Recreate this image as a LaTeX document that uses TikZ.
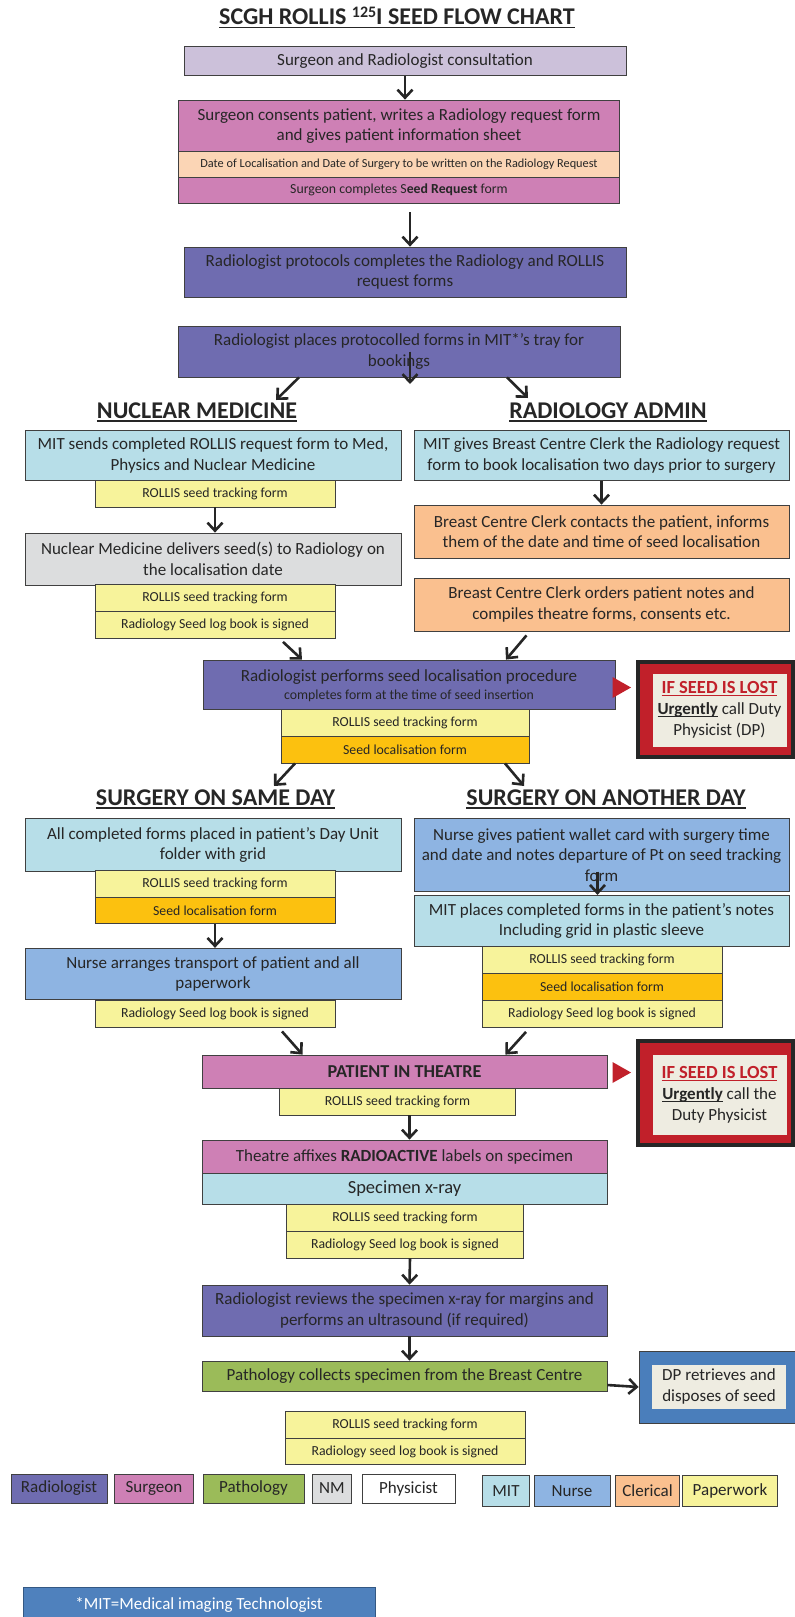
\documentclass[tikz,border=0pt]{standalone}
\usepackage{fontspec}
\setmainfont{Carlito}
\usetikzlibrary{arrows.meta}

\definecolor{radcol}{HTML}{6F6CB0}
\definecolor{surcol}{HTML}{CE80B5}
\definecolor{concol}{HTML}{CCC1DA}
\definecolor{datecol}{HTML}{FBD5B5}
\definecolor{mitcol}{HTML}{B7DEE8}
\definecolor{nursecol}{HTML}{8EB4E2}
\definecolor{clerkcol}{HTML}{FAC08F}
\definecolor{nmcol}{HTML}{DCDDDE}
\definecolor{pathcol}{HTML}{9BBB59}
\definecolor{papercol}{HTML}{F7F39B}
\definecolor{seedcol}{HTML}{FCC10F}
\definecolor{lostcol}{HTML}{C1202A}
\definecolor{creamcol}{HTML}{EEECE1}
\definecolor{dpcol}{HTML}{4A7EBB}
\definecolor{notecol}{HTML}{4F81BD}
\definecolor{inkcol}{HTML}{262626}
\definecolor{edgecol}{HTML}{404040}

\newsavebox{\ulbox}
\newcommand{\hdline}[1]{\sbox{\ulbox}{#1}\rlap{\usebox{\ulbox}}\rule[-3.5pt]{\wd\ulbox}{1.8pt}}
\newcommand{\lostline}[1]{\sbox{\ulbox}{#1}\rlap{\usebox{\ulbox}}\rule[-2.6pt]{\wd\ulbox}{1.2pt}}
\newcommand{\lostsize}{\fontsize{18.5}{21}\selectfont\bfseries}

\begin{document}
\begin{tikzpicture}[x=1pt,y=-1pt,
    box/.style={draw=edgecol,line width=0.8pt,align=center,inner sep=0pt,text=inkcol,font=\fontsize{17}{20.6}\selectfont},
    wh/.style 2 args={minimum width=#1,minimum height=#2},
    smalltxt/.style={font=\fontsize{13.8}{16}\selectfont},
    consult/.style={box,fill=concol},
    surg/.style={box,fill=surcol},
    rad/.style={box,fill=radcol},
    mit/.style={box,fill=mitcol},
    nurse/.style={box,fill=nursecol},
    clerk/.style={box,fill=clerkcol},
    nm/.style={box,fill=nmcol},
    patho/.style={box,fill=pathcol},
    paper/.style={box,smalltxt,fill=papercol},
    seedform/.style={box,smalltxt,fill=seedcol},
    head/.style={inner sep=0pt,text=inkcol,font=\fontsize{24}{28}\selectfont\bfseries},
    arr/.style={draw=inkcol,line width=2.6pt,-{Straight Barb[length=8pt,width=15pt]}},
    lost/.style={draw=black!85,line width=3.5pt,fill=lostcol},
    cream/.style={fill=creamcol,align=center,inner sep=0pt,text=inkcol,font=\fontsize{17}{21}\selectfont}]
    \useasboundingbox (0,0) rectangle (795,1617);

    \node[head] (title) at (397,18) {\hdline{SCGH ROLLIS {\fontsize{16}{16}\selectfont\raisebox{7pt}{125}}I SEED FLOW CHART}};
    \node[consult,wh={442}{29}] (consult) at (405,61) {Surgeon and Radiologist consultation};
    \node[surg,wh={441}{52}] (consent) at (399,126) {Surgeon consents patient, writes a Radiology request form\\and gives patient information sheet};
    \node[box,fill=datecol,wh={441}{26},font=\fontsize{12.3}{15}\selectfont] (datereq) at (399,164) {Date of Localisation and Date of Surgery to be written on the Radiology Request};
    \node[surg,smalltxt,wh={441}{26}] (seedreq) at (399,190) {Surgeon completes S\textbf{eed Request} form};
    \node[rad,wh={442}{50}] (protocol) at (405,272) {Radiologist protocols completes the Radiology and ROLLIS\\request forms};
    \node[rad,wh={442}{51}] (placed) at (399,351.5) {Radiologist places protocolled forms in MIT*’s tray for\\bookings};
    \coordinate (bookend) at (410,384);
    \coordinate (nmin) at (276,400);
    \coordinate (adminin) at (528,398);

    \node[head] (nmhead) at (197,412) {\hdline{NUCLEAR MEDICINE}};
    \node[head] (adminhead) at (608,412) {\hdline{RADIOLOGY ADMIN}};

    \node[mit,wh={376}{50}] (medsend) at (213,455.5) {MIT sends completed ROLLIS request form to Med,\\Physics and Nuclear Medicine};
    \node[paper,wh={240}{27}] (medtrack) at (215,493.5) {ROLLIS seed tracking form};
    \node[nm,wh={376}{52}] (nmdeliver) at (213,559) {Nuclear Medicine delivers seed(s) to Radiology on\\the localisation date};
    \node[paper,wh={240}{27}] (nmtrack) at (215,598) {ROLLIS seed tracking form};
    \node[paper,wh={240}{27}] (nmlog) at (215,625) {Radiology Seed log book is signed};

    \node[mit,wh={375}{50}] (clerkbook) at (601.5,455.5) {MIT gives Breast Centre Clerk the Radiology request\\form to book localisation two days prior to surgery};
    \node[clerk,wh={375}{53}] (clerkcall) at (601.5,531.5) {Breast Centre Clerk contacts the patient, informs\\them of the date and time of seed localisation};
    \node[clerk,wh={375}{53}] (clerknotes) at (601.5,604.5) {Breast Centre Clerk orders patient notes and\\compiles theatre forms, consents etc.};

    \node[rad,wh={412}{49}] (localise) at (409,684.5) {\strut Radiologist performs seed localisation procedure\\[-3pt]{\fontsize{13.8}{16}\selectfont completes form at the time of seed insertion}};
    \node[paper,wh={248}{27}] (loctrack) at (405,722.5) {ROLLIS seed tracking form};
    \node[seedform,wh={248}{27}] (locform) at (405,749.5) {Seed localisation form};
    \fill[lostcol] (612.5,677) -- (612.5,698) -- (631,687.5) -- cycle;
    \node[lost,wh={155}{95}] (lostA) at (715.5,709.5) {};
    \node[cream,wh={134}{73}] (lostAtxt) at (719.5,710) {{\color{lostcol}\lostsize\lostline{IF SEED IS LOST}}\\\textbf{\lostline{Urgently}} call Duty\\Physicist (DP)};
    \coordinate (samein) at (274,786);
    \coordinate (laterin) at (524,786);

    \node[head] (samehead) at (215.5,799) {\hdline{SURGERY ON SAME DAY}};
    \node[head] (laterhead) at (606,799) {\hdline{SURGERY ON ANOTHER DAY}};

    \node[mit,wh={376}{52.5}] (dayunit) at (213,845) {All completed forms placed in patient’s Day Unit\\folder with grid};
    \node[paper,wh={240}{26.5}] (daytrack) at (215,884) {ROLLIS seed tracking form};
    \node[seedform,wh={240}{26.5}] (dayform) at (215,910.5) {Seed localisation form};
    \node[nurse,wh={376}{51.5}] (transport) at (213,974) {Nurse arranges transport of patient and all\\paperwork};
    \node[paper,wh={240}{27}] (daylog) at (215,1013.5) {Radiology Seed log book is signed};

    \node[nurse,wh={375}{72.5}] (wallet) at (601.5,855) {Nurse gives patient wallet card with surgery time\\and date and notes departure of Pt on seed tracking\\form};
    \node[mit,wh={375}{51.5}] (notes) at (601.5,921) {MIT places completed forms in the patient’s notes\\Including grid in plastic sleeve};
    \node[paper,wh={240}{27}] (notestrack) at (602,960) {ROLLIS seed tracking form};
    \node[seedform,wh={240}{27}] (notesform) at (602,987) {Seed localisation form};
    \node[paper,wh={240}{27}] (noteslog) at (602,1014) {Radiology Seed log book is signed};

    \node[surg,wh={405}{33},font=\fontsize{18.2}{21}\selectfont\bfseries] (theatre) at (404.5,1071.5) {PATIENT IN THEATRE};
    \node[paper,wh={236}{27}] (thtrack) at (397.5,1101.5) {ROLLIS seed tracking form};
    \fill[lostcol] (612.5,1062) -- (612.5,1083) -- (631,1072.5) -- cycle;
    \node[lost,wh={155}{104}] (lostB) at (715.5,1093) {};
    \node[cream,wh={134}{80}] (lostBtxt) at (719.5,1094.5) {{\color{lostcol}\lostsize\lostline{IF SEED IS LOST}}\\\textbf{\lostline{Urgently}} call the\\Duty Physicist};

    \node[surg,wh={405}{33}] (labels) at (404.5,1156.5) {Theatre affixes \textbf{RADIOACTIVE} labels on specimen};
    \node[mit,wh={405}{31},font=\fontsize{18.5}{22}\selectfont] (xray) at (404.5,1188.5) {Specimen x-ray};
    \node[paper,wh={237}{27}] (xtrack) at (405,1217.5) {ROLLIS seed tracking form};
    \node[paper,wh={237}{27}] (xlog) at (405,1244.5) {Radiology Seed log book is signed};
    \node[rad,wh={405}{51}] (review) at (404.5,1310.5) {Radiologist reviews the specimen x-ray for margins and\\performs an ultrasound (if required)};
    \node[patho,wh={405}{30}] (collect) at (404.5,1376) {Pathology collects specimen from the Breast Centre};
    \node[box,fill=dpcol,wh={156}{72}] (dpbox) at (717,1387) {};
    \node[cream,wh={134}{44}] (dptxt) at (719,1386.5) {DP retrieves and\\disposes of seed};
    \node[paper,wh={240}{26.5}] (endtrack) at (405,1425) {ROLLIS seed tracking form};
    \node[paper,wh={240}{26.5}] (endlog) at (405,1451.5) {Radiology seed log book is signed};

    \node[rad,wh={96}{29}] (keyrad) at (59,1488.5) {Radiologist};
    \node[surg,wh={79.5}{29}] (keysurg) at (154,1488.5) {Surgeon};
    \node[patho,wh={101}{29}] (keypath) at (253.5,1488.5) {Pathology};
    \node[nm,wh={39.5}{29}] (keynm) at (332,1488.5) {NM};
    \node[box,fill=white,wh={93}{29}] (keyphys) at (408.5,1488.5) {Physicist};
    \node[mit,wh={47.5}{31}] (keymit) at (506,1491) {MIT};
    \node[nurse,wh={76}{31}] (keynurse) at (572,1491) {Nurse};
    \node[clerk,wh={64}{31}] (keyclerk) at (647.5,1491) {Clerical};
    \node[paper,wh={94.5}{31},font=\fontsize{17}{20.6}\selectfont] (keypaper) at (730,1491) {Paperwork};

    \node[box,fill=notecol,draw=dpcol!70!black,text=white,wh={352}{36}] (mitnote) at (199,1605) {*MIT=Medical imaging Technologist};

    \draw[arr] (consult) -- (consult |- consent.north);
    \draw[arr] ([xshift=11pt,yshift=-9pt]seedreq.south) -- ([xshift=5pt]protocol.north);
    \draw[arr] (bookend |- placed.center) -- (bookend);
    \draw[arr] ([xshift=-100pt]placed.south) -- (nmin);
    \draw[arr] ([xshift=108pt]placed.south) -- (adminin);
    \draw[arr] (medtrack) -- (medtrack |- nmdeliver.north);
    \draw[arr] (clerkbook) -- (clerkcall);
    \draw[arr] ([xshift=68pt,yshift=-3pt]nmlog.south) -- ([xshift=-107pt]localise.north);
    \draw[arr] ([xshift=-75pt,yshift=-4pt]clerknotes.south) -- ([xshift=97pt]localise.north);
    \draw[arr] ([xshift=-110pt]locform.south) -- (samein);
    \draw[arr] ([xshift=100pt]locform.south) -- (laterin);
    \draw[arr] (dayform) -- (dayform |- transport.north);
    \draw[arr] ([xshift=-4pt,yshift=20pt]wallet.south) -- ([xshift=-4pt]notes.north);
    \draw[arr] ([xshift=67pt,yshift=-4pt]daylog.south) -- ([xshift=-102pt]theatre.north);
    \draw[arr] ([xshift=-76pt,yshift=-4pt]noteslog.south) -- ([xshift=101pt]theatre.north);
    \draw[arr] ([xshift=12pt]thtrack.south) -- ([xshift=5pt]labels.north);
    \draw[arr] ([xshift=5pt]xlog.south) -- ([xshift=5pt]review.north);
    \draw[arr] ([xshift=5pt]review.south) -- ([xshift=5pt]collect.north);
    \draw[arr] ([yshift=-9pt]collect.east) -- (dpbox.west);
\end{tikzpicture}
\end{document}
